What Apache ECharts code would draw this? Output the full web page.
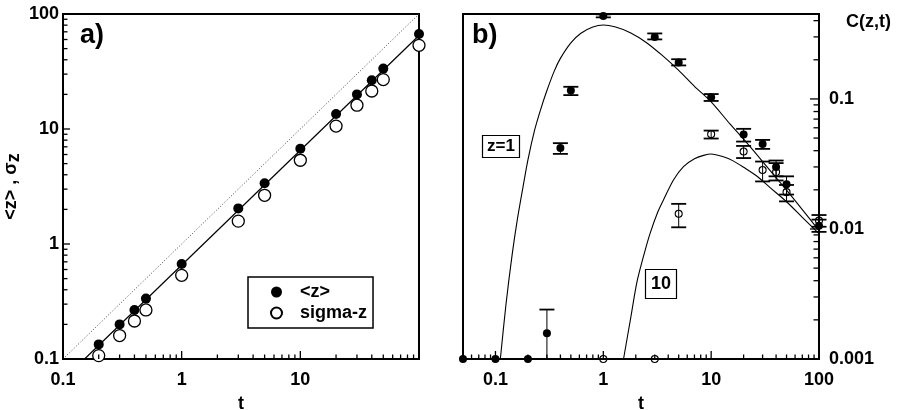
<!DOCTYPE html>
<html>
<head>
<meta charset="utf-8">
<script src="https://cdn.jsdelivr.net/npm/echarts@6/dist/echarts.min.js"></script>
<style>
  html, body { margin: 0; padding: 0; background: #fff; }
  #chart { width: 904px; height: 410px; }
</style>
</head>
<body>
<div id="chart"></div>
<script>
// ---- panel a): mean depth <z> and its spread sigma-z versus time t ----
const tA     = [0.2, 0.3, 0.4, 0.5, 1, 3, 5, 10, 20, 30, 40, 50, 100];
const meanZ  = [0.134, 0.2, 0.267, 0.335, 0.67, 2.04, 3.37, 6.75, 13.5, 20, 26.5, 33.5, 67];
const sigmaZ = [0.107, 0.16, 0.214, 0.267, 0.534, 1.58, 2.65, 5.35, 10.6, 16.1, 21.4, 26.9, 53.4];
// straight fit through <z> and the z = t reference diagonal
const fitT  = [0.152, 100];
const fitZ  = [0.1, 65];
const diagT = [0.1, 100];
const diagZ = [0.1, 100];

// ---- panel b): C(z,t) for z = 1 (filled) and z = 10 (open) ----
const tZ1    = [0.05, 0.1, 0.2, 0.3, 0.4, 0.5, 1, 3, 5, 10, 20, 30, 40, 50, 100];
const cZ1    = [0.001, 0.001, 0.001, 0.00158, 0.0419, 0.116, 0.435, 0.30, 0.191, 0.103, 0.0532, 0.045, 0.030, 0.0221, 0.0106];
const cZ1Lo  = [null, null, null, 0.001, 0.0378, 0.107, 0.424, 0.287, 0.181, 0.0965, 0.047, 0.0413, 0.0254, 0.0184, 0.0095];
const cZ1Hi  = [null, null, null, 0.0024, 0.0457, 0.124, 0.447, 0.319, 0.202, 0.109, 0.0589, 0.0484, 0.0336, 0.0254, 0.0118];

const tZ10   = [1, 3, 5, 10, 20, 30, 40, 50, 100];
const cZ10   = [0.001, 0.001, 0.0131, 0.0536, 0.0394, 0.0284, 0.0274, 0.0192, 0.0116];
const cZ10Lo = [null, null, 0.0103, 0.0496, 0.0351, 0.0232, 0.0236, 0.0163, 0.0104];
const cZ10Hi = [null, null, 0.0156, 0.0571, 0.0435, 0.033, 0.0321, 0.0218, 0.0128];

// model curves
const curveT1  = [0.111, 0.125, 0.143, 0.16, 0.18, 0.2, 0.23, 0.26, 0.3, 0.35, 0.4, 0.5, 0.62, 0.8, 1.0, 1.3, 1.8, 2.5, 3.5, 5, 7, 10, 15, 20, 30, 50, 70, 100];
const curveC1  = [0.001, 0.0026, 0.0064, 0.012, 0.021, 0.034, 0.057, 0.081, 0.116, 0.163, 0.205, 0.27, 0.32, 0.357, 0.37, 0.357, 0.322, 0.272, 0.217, 0.166, 0.125, 0.095, 0.064, 0.049, 0.033, 0.0199, 0.0141, 0.0097];
const curveT10 = [1.54, 1.8, 2.05, 2.4, 2.72, 3.2, 3.62, 4.5, 5.54, 7, 8.5, 10, 13, 16, 20, 27, 35.2, 50, 70, 100];
const curveC10 = [0.001, 0.0021, 0.0039, 0.0065, 0.0093, 0.0135, 0.0168, 0.024, 0.0302, 0.0347, 0.0368, 0.0377, 0.0359, 0.0334, 0.0298, 0.0252, 0.0208, 0.0162, 0.0123, 0.0092];

const FONT = 'Liberation Sans';
const LABEL_SIZE = 18;
const zip = (a, b) => a.map((v, i) => [v, b[i]]);
const bars = (t, lo, hi) => t.map((v, i) => [v, lo[i], hi[i]]).filter(d => d[1] != null);

// label only at whole decades
function decadeLabel(v) {
  const e = Math.log10(v);
  if (Math.abs(e - Math.round(e)) > 1e-6) return '';
  return String(Number(Math.pow(10, Math.round(e)).toPrecision(6)));
}

// log ticks inside [lo, hi]: mantissa 1 = major, 2..9 = minor
function logTicks(lo, hi, major) {
  const out = [];
  const ms = major ? [1] : [2, 3, 4, 5, 6, 7, 8, 9];
  for (let e = -4; e <= 3; e++) {
    for (const m of ms) {
      const v = m * Math.pow(10, e);
      if (v >= lo * 0.9999 && v <= hi * 1.0001) out.push(v);
    }
  }
  return out;
}

function tickSeries(xi, yi, ticks, dir, len) {
  // dir: 'up' (bottom axis), 'right' (left axis), 'left' (right axis)
  return {
    type: 'custom', coordinateSystem: 'cartesian2d', xAxisIndex: xi, yAxisIndex: yi,
    silent: true, clip: false, z: 6,
    encode: { x: 0, y: 1 },
    data: ticks,
    renderItem(params, api) {
      const p = api.coord([api.value(0), api.value(1)]);
      let x2 = p[0], y2 = p[1];
      if (dir === 'up') y2 -= len; else if (dir === 'right') x2 += len; else x2 -= len;
      return { type: 'line', shape: { x1: p[0], y1: p[1], x2: x2, y2: y2 }, style: { stroke: '#000', lineWidth: 1.3 } };
    }
  };
}

function errorSeries(data) {
  return {
    type: 'custom', xAxisIndex: 1, yAxisIndex: 1, silent: true, z: 3,
    encode: { x: 0, y: [1, 2] },
    data,
    renderItem(params, api) {
      const x = api.value(0);
      const a = api.coord([x, api.value(1)]);
      const b = api.coord([x, api.value(2)]);
      const hw = 7.5;
      return {
        type: 'group',
        children: [
          { type: 'line', shape: { x1: a[0], y1: a[1], x2: b[0], y2: b[1] }, style: { stroke: '#000', lineWidth: 1 } },
          { type: 'line', shape: { x1: b[0] - hw, y1: b[1], x2: b[0] + hw, y2: b[1] }, style: { stroke: '#000', lineWidth: 1.8 } },
          { type: 'line', shape: { x1: a[0] - hw, y1: a[1], x2: a[0] + hw, y2: a[1] }, style: { stroke: '#000', lineWidth: 1.8 } }
        ]
      };
    }
  };
}

const labelStyle = { color: '#000', fontFamily: FONT, fontWeight: 'bold', fontSize: LABEL_SIZE };
const nameStyle = { color: '#000', fontFamily: FONT, fontWeight: 'bold', fontSize: LABEL_SIZE };

function logAxis(extra) {
  return Object.assign({
    type: 'log', logBase: 10,
    axisLine: { show: true, lineStyle: { color: '#000', width: 2 } },
    axisTick: { show: false },
    axisLabel: Object.assign({ formatter: decadeLabel }, labelStyle),
    splitLine: { show: false },
    minorTick: { show: false },
    nameTextStyle: nameStyle
  }, extra);
}

const chart = echarts.init(document.getElementById('chart'), null, { renderer: 'canvas' });

chart.setOption({
  animation: false,
  backgroundColor: '#fff',
  textStyle: { fontFamily: FONT },
  grid: [
    { left: 63, top: 14, width: 356, height: 345, outerBoundsMode: 'none', containLabel: false,
      show: true, borderColor: '#000', borderWidth: 2, backgroundColor: 'transparent' },
    { left: 463, top: 14, width: 356, height: 345, outerBoundsMode: 'none', containLabel: false,
      show: true, borderColor: '#000', borderWidth: 2, backgroundColor: 'transparent' }
  ],
  title: [
    { text: 'a)', left: 80, top: 22, textStyle: { fontFamily: FONT, fontWeight: 'bold', fontSize: 27, color: '#000' }, padding: 0 },
    { text: 'b)', left: 472, top: 22, textStyle: { fontFamily: FONT, fontWeight: 'bold', fontSize: 27, color: '#000' }, padding: 0 },
    { text: 'C(z,t)', left: 846, top: 13, textStyle: { fontFamily: FONT, fontWeight: 'bold', fontSize: 18, color: '#000' }, padding: 0 },
    { text: 'z=1', left: 482, top: 135, borderColor: '#000', borderWidth: 1.2, padding: [3, 5, 3, 5],
      textStyle: { fontFamily: FONT, fontWeight: 'bold', fontSize: 17, color: '#000' } },
    { text: '10', left: 645, top: 269, borderColor: '#000', borderWidth: 1.2, padding: [6, 6, 6, 6],
      textStyle: { fontFamily: FONT, fontWeight: 'bold', fontSize: 18, color: '#000' } }
  ],
  legend: {
    data: ['<z>', 'sigma-z'],
    orient: 'vertical', left: 248, top: 277,
    borderColor: '#000', borderWidth: 1.5, padding: [6, 6, 6, 22], itemGap: 3,
    itemWidth: 11, itemHeight: 11,
    textStyle: { fontFamily: FONT, fontWeight: 'bold', fontSize: 18, color: '#000', padding: [0, 0, 0, 13] },
    selectedMode: false
  },
  xAxis: [
    logAxis({ gridIndex: 0, min: 0.1, max: 100, name: 't', nameLocation: 'middle', nameGap: 36,
      axisLabel: Object.assign({ margin: 12, formatter: v => (Math.abs(v - 100) < 1e-6 ? '' : decadeLabel(v)) }, labelStyle) }),
    logAxis({ gridIndex: 1, min: 0.05, max: 100, name: 't', nameLocation: 'middle', nameGap: 36,
      axisLabel: Object.assign({ margin: 12, formatter: decadeLabel }, labelStyle) })
  ],
  yAxis: [
    logAxis({ gridIndex: 0, min: 0.1, max: 100, position: 'left',
      axisLabel: Object.assign({ margin: 4, formatter: decadeLabel }, labelStyle),
      name: '<z> , σ{s|z}', nameLocation: 'middle', nameGap: 40, nameRotate: 90,
      nameTextStyle: Object.assign({}, nameStyle, { rich: { s: { fontFamily: FONT, fontWeight: 'bold', fontSize: 18, color: '#000', padding: [6, 0, 0, 0] } } }) }),
    logAxis({ gridIndex: 1, min: 0.001, max: 0.45, position: 'right',
      axisLabel: Object.assign({ margin: 10, formatter: decadeLabel }, labelStyle) })
  ],
  series: [
    // panel a)
    { name: 'diag', type: 'line', xAxisIndex: 0, yAxisIndex: 0, data: zip(diagT, diagZ), showSymbol: false, silent: true,
      lineStyle: { color: '#444', width: 1, type: [1, 2] }, z: 2 },
    { name: 'fit', type: 'line', xAxisIndex: 0, yAxisIndex: 0, data: zip(fitT, fitZ), showSymbol: false, silent: true,
      lineStyle: { color: '#000', width: 1.2 }, z: 2 },
    { name: 'sigma-z', type: 'scatter', xAxisIndex: 0, yAxisIndex: 0, data: zip(tA, sigmaZ), symbol: 'circle', symbolSize: 12,
      itemStyle: { color: '#fff', borderColor: '#000', borderWidth: 1.3, opacity: 1 }, clip: false, z: 4 },
    { name: '<z>', type: 'scatter', xAxisIndex: 0, yAxisIndex: 0, data: zip(tA, meanZ), symbol: 'circle', symbolSize: 10,
      itemStyle: { color: '#000', opacity: 1 }, clip: false, z: 4 },

    // panel b)
    { name: 'curve z=1', type: 'line', xAxisIndex: 1, yAxisIndex: 1, data: zip(curveT1, curveC1), showSymbol: false, silent: true,
      smooth: 0.3, lineStyle: { color: '#000', width: 1.1 }, z: 2 },
    { name: 'curve z=10', type: 'line', xAxisIndex: 1, yAxisIndex: 1, data: zip(curveT10, curveC10), showSymbol: false, silent: true,
      smooth: 0.3, lineStyle: { color: '#000', width: 1.1 }, z: 2 },
    errorSeries(bars(tZ1, cZ1Lo, cZ1Hi)),
    errorSeries(bars(tZ10, cZ10Lo, cZ10Hi)),
    { name: 'C z=10', type: 'scatter', xAxisIndex: 1, yAxisIndex: 1, data: zip(tZ10, cZ10), symbol: 'circle', symbolSize: 7,
      itemStyle: { color: 'transparent', borderColor: '#000', borderWidth: 1.1, opacity: 1 }, clip: false, z: 4 },
    { name: 'C z=1', type: 'scatter', xAxisIndex: 1, yAxisIndex: 1, data: zip(tZ1, cZ1), symbol: 'circle', symbolSize: 8,
      itemStyle: { color: '#000', opacity: 1 }, clip: false, z: 4 },

    // axis ticks, drawn inward
    tickSeries(0, 0, logTicks(0.1, 100, true).map(v => [v, 0.1]), 'up', 8),
    tickSeries(0, 0, logTicks(0.1, 100, false).map(v => [v, 0.1]), 'up', 4.5),
    tickSeries(0, 0, logTicks(0.1, 100, true).map(v => [0.1, v]), 'right', 7),
    tickSeries(0, 0, logTicks(0.1, 100, false).map(v => [0.1, v]), 'right', 4.5),
    tickSeries(1, 1, logTicks(0.05, 100, true).map(v => [v, 0.001]), 'up', 8),
    tickSeries(1, 1, logTicks(0.05, 100, false).map(v => [v, 0.001]), 'up', 4.5),
    tickSeries(1, 1, logTicks(0.001, 0.45, true).map(v => [100, v]), 'left', 9),
    tickSeries(1, 1, logTicks(0.001, 0.45, false).map(v => [100, v]), 'left', 5.5)
  ]
});
</script>
</body>
</html>
